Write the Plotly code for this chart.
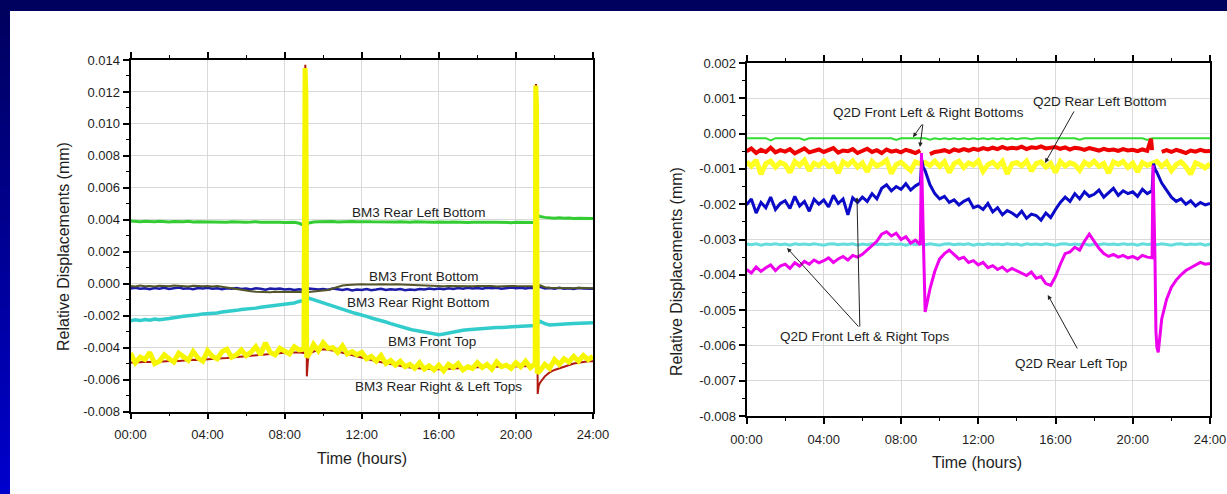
import plotly.graph_objects as go

# ---------------- data (values in 1e-3 mm, sampled every 0.25 h; spikes listed separately) ----------------
X_TICKS = [0, 4, 8, 12, 16, 20, 24]
X_TICK_TEXT = ["00:00", "04:00", "08:00", "12:00", "16:00", "20:00", "24:00"]
Y_TICKS_L = [-0.008, -0.006, -0.004, -0.002, 0.0, 0.002, 0.004, 0.006, 0.008, 0.010, 0.012, 0.014]
Y_TICKS_R = [-0.008, -0.007, -0.006, -0.005, -0.004, -0.003, -0.002, -0.001, 0.0, 0.001, 0.002]

# ---- left chart: BM3 ----
bm3_rear_left_bottom = [
    3.92, 3.90, 3.88, 3.91, 3.89, 3.87, 3.90, 3.88,
    3.86, 3.89, 3.87, 3.88, 3.90, 3.86, 3.88, 3.87,
    3.89, 3.86, 3.88, 3.87, 3.85, 3.88, 3.86, 3.87,
    3.85, 3.86, 3.88, 3.85, 3.86, 3.84, 3.86, 3.85,
    3.83, 3.85, 3.84, 3.78, 3.65, 3.80, 3.86, 3.87,
    3.88, 3.87, 3.89, 3.86, 3.88, 3.87, 3.89, 3.88,
    3.86, 3.88, 3.87, 3.86, 3.88, 3.85, 3.87, 3.86,
    3.88, 3.86, 3.85, 3.87, 3.86, 3.84, 3.86, 3.85,
    3.86, 3.84, 3.85, 3.86, 3.84, 3.85, 3.83, 3.85,
    3.84, 3.85, 3.83, 3.84, 3.85, 3.83, 3.84, 3.82,
    3.84, 3.83, 3.84, 3.82, 3.83, 4.20, 4.15, 4.12,
    4.10, 4.12, 4.09, 4.11, 4.08, 4.10, 4.09, 4.08,
    4.08]
bm3_rear_left_bottom_spikes = {9.1: -4.2, 9.15: 3.7, 21.05: 5.8, 21.08: -4.8, 21.12: 4.3}

bm3_front_bottom = [
    -0.15, -0.18, -0.12, -0.16, -0.14, -0.17, -0.13, -0.15,
    -0.16, -0.12, -0.15, -0.14, -0.18, -0.13, -0.15, -0.16,
    -0.14, -0.17, -0.15, -0.20, -0.25, -0.30, -0.35, -0.40,
    -0.45, -0.48, -0.50, -0.52, -0.50, -0.53, -0.51, -0.52,
    -0.50, -0.53, -0.52, -0.50, -0.55, -0.52, -0.50, -0.48,
    -0.45, -0.40, -0.30, -0.20, -0.12, -0.08, -0.06, -0.05,
    -0.04, -0.05, -0.03, -0.05, -0.04, -0.06, -0.05, -0.04,
    -0.05, -0.06, -0.08, -0.10, -0.12, -0.13, -0.15, -0.14,
    -0.15, -0.16, -0.14, -0.15, -0.16, -0.14, -0.15, -0.16,
    -0.15, -0.14, -0.16, -0.15, -0.17, -0.15, -0.16, -0.14,
    -0.15, -0.16, -0.15, -0.17, -0.16, -0.10, -0.22, -0.25,
    -0.26, -0.28, -0.25, -0.27, -0.29, -0.26, -0.28, -0.27,
    -0.28]
bm3_front_bottom_spikes = {9.05: 1.3, 9.12: -0.6, 21.05: 1.0, 21.12: -0.3}

bm3_rear_right_bottom = [
    -0.30, -0.25, -0.32, -0.28, -0.35, -0.27, -0.31, -0.26,
    -0.33, -0.29, -0.24, -0.31, -0.28, -0.34, -0.27, -0.30,
    -0.26, -0.32, -0.29, -0.35, -0.28, -0.31, -0.27, -0.33,
    -0.30, -0.36, -0.29, -0.32, -0.38, -0.30, -0.34, -0.31,
    -0.36, -0.33, -0.39, -0.35, -0.40, -0.30, -0.34, -0.37,
    -0.33, -0.38, -0.31, -0.36, -0.40, -0.34, -0.42, -0.36,
    -0.39, -0.33, -0.41, -0.37, -0.32, -0.40, -0.35, -0.38,
    -0.34, -0.41, -0.36, -0.39, -0.33, -0.37, -0.31, -0.35,
    -0.30, -0.34, -0.28, -0.33, -0.27, -0.31, -0.26, -0.30,
    -0.27, -0.32, -0.25, -0.29, -0.26, -0.31, -0.27, -0.24,
    -0.28, -0.25, -0.30, -0.26, -0.29, -0.20, -0.30, -0.27,
    -0.32, -0.26, -0.31, -0.28, -0.33, -0.27, -0.30, -0.29,
    -0.31]

bm3_front_top = [
    -2.32, -2.26, -2.31, -2.24, -2.29, -2.21, -2.25, -2.19,
    -2.18, -2.13, -2.11, -2.04, -2.01, -1.95, -1.94, -1.89,
    -1.88, -1.84, -1.83, -1.77, -1.75, -1.69, -1.67, -1.61,
    -1.60, -1.55, -1.53, -1.47, -1.43, -1.37, -1.36, -1.31,
    -1.30, -1.24, -1.21, -1.11, -1.05, -0.90, -1.00, -1.12,
    -1.25, -1.35, -1.45, -1.55, -1.62, -1.72, -1.80, -1.88,
    -1.95, -2.05, -2.15, -2.22, -2.32, -2.40, -2.50, -2.60,
    -2.70, -2.78, -2.85, -2.92, -2.98, -3.05, -3.12, -3.18,
    -3.20, -3.15, -3.08, -3.02, -2.96, -2.92, -2.88, -2.85,
    -2.82, -2.80, -2.79, -2.77, -2.75, -2.74, -2.72, -2.70,
    -2.70, -2.68, -2.66, -2.65, -2.62, -2.35, -2.50, -2.58,
    -2.55, -2.53, -2.52, -2.50, -2.49, -2.47, -2.46, -2.45,
    -2.44]

bm3_rear_right_top = [
    -4.95, -4.90, -4.92, -4.88, -4.90, -4.86, -4.88, -4.85,
    -4.85, -4.82, -4.84, -4.80, -4.80, -4.76, -4.78, -4.75,
    -4.72, -4.70, -4.68, -4.66, -4.65, -4.62, -4.60, -4.58,
    -4.55, -4.52, -4.50, -4.45, -4.40, -4.38, -4.35, -4.35,
    -4.32, -4.30, -4.28, -4.30, -4.35, -4.40, -4.25, -4.15,
    -4.10, -4.12, -4.18, -4.25, -4.32, -4.40, -4.48, -4.56,
    -4.62, -4.70, -4.78, -4.86, -4.92, -5.00, -5.06, -5.12,
    -5.16, -5.20, -5.24, -5.28, -5.30, -5.32, -5.34, -5.36,
    -5.35, -5.34, -5.32, -5.30, -5.28, -5.26, -5.25, -5.24,
    -5.22, -5.21, -5.20, -5.20, -5.19, -5.18, -5.18, -5.17,
    -5.16, -5.16, -5.15, -5.15, -5.15, -6.20, -5.80, -5.55,
    -5.40, -5.30, -5.20, -5.10, -5.00, -4.95, -4.90, -4.85,
    -4.85]
bm3_rear_right_top_spikes = {9.04: 6.0, 9.07: 13.7, 9.11: 11.5, 9.15: -5.8, 9.2: -4.9,
                             21.02: 6.0, 21.04: 12.5, 21.08: 11.2, 21.13: -6.9, 21.18: -6.4}

bm3_rear_left_top = [
    -4.35, -4.95, -4.60, -4.75, -4.30, -5.00, -4.85, -4.45,
    -4.70, -4.90, -4.35, -4.55, -4.80, -4.25, -4.65, -4.85,
    -4.20, -4.55, -4.70, -4.25, -4.10, -4.60, -4.45, -4.15,
    -4.50, -4.30, -3.95, -4.45, -3.70, -4.30, -4.45, -4.05,
    -4.25, -4.40, -3.95, -4.15, -4.10, -4.45, -3.80, -4.20,
    -3.70, -4.05, -4.00, -4.30, -3.90, -4.40, -4.25, -4.45,
    -4.30, -4.70, -4.55, -4.85, -4.50, -5.00, -4.80, -5.10,
    -4.85, -5.20, -5.05, -5.30, -4.95, -5.35, -5.15, -5.40,
    -5.10, -5.45, -5.05, -5.25, -5.00, -5.40, -5.20, -5.30,
    -4.95, -5.25, -5.05, -5.35, -4.90, -5.20, -5.10, -5.30,
    -4.95, -5.20, -4.85, -5.25, -5.00, -5.45, -5.05, -5.30,
    -4.75, -5.05, -4.70, -4.90, -4.55, -4.85, -4.50, -4.75,
    -4.55]
bm3_rear_left_top_spikes = {9.03: 5.0, 9.06: 13.5, 9.1: 12.0, 9.14: -4.6,
                            21.01: 5.0, 21.03: 12.4, 21.07: 11.0, 21.11: -5.6}

# ---- right chart: Q2D ----
q2d_front_bottom_a = [
    -0.13, -0.13, -0.13, -0.13, -0.13, -0.19, -0.13, -0.13,
    -0.13, -0.13, -0.13, -0.13, -0.18, -0.13, -0.13, -0.13,
    -0.13, -0.13, -0.13, -0.13, -0.13, -0.13, -0.13, -0.13,
    -0.13, -0.13, -0.13, -0.13, -0.13, -0.13, -0.13, -0.18,
    -0.13, -0.13, -0.13, -0.13, -0.13, -0.13, -0.17, -0.13,
    -0.16, -0.13, -0.16, -0.13, -0.16, -0.13, -0.16, -0.13,
    -0.16, -0.13, -0.16, -0.13, -0.16, -0.13, -0.16, -0.13,
    -0.16, -0.13, -0.13, -0.16, -0.13, -0.13, -0.13, -0.13,
    -0.13, -0.13, -0.13, -0.13, -0.13, -0.17, -0.13, -0.13,
    -0.13, -0.13, -0.13, -0.13, -0.13, -0.13, -0.13, -0.13,
    -0.13, -0.13, -0.13, -0.18, -0.13, -0.13, -0.13, -0.13,
    -0.13, -0.13, -0.13, -0.13, -0.13, -0.13, -0.13, -0.13,
    -0.13]

q2d_front_bottom_b = [
    -0.50, -0.42, -0.55, -0.46, -0.52, -0.40, -0.53, -0.47,
    -0.51, -0.44, -0.56, -0.48, -0.42, -0.53, -0.49, -0.45,
    -0.52, -0.47, -0.41, -0.54, -0.48, -0.50, -0.44, -0.55,
    -0.49, -0.43, -0.52, -0.47, -0.55, -0.45, -0.51, -0.48,
    -0.53, -0.46, -0.50, -0.55, -0.48, None, -0.58, -0.52,
    -0.50, -0.47, -0.52, -0.45, -0.49, -0.44, -0.48, -0.43,
    -0.46, -0.41, -0.45, -0.40, -0.44, -0.38, -0.43, -0.40,
    -0.42, -0.37, -0.44, -0.39, -0.41, -0.36, -0.42, -0.40,
    -0.38, -0.43, -0.39, -0.45, -0.40, -0.42, -0.46, -0.41,
    -0.44, -0.48, -0.43, -0.47, -0.45, -0.49, -0.44, -0.48,
    -0.46, -0.50, -0.45, -0.49, -0.47, None, -0.52, -0.47,
    -0.52, -0.46, -0.50, -0.55, -0.48, -0.51, -0.46, -0.50,
    -0.49]
q2d_front_bottom_b_spikes = {20.95: -0.15, 21.1: None}

q2d_rear_left_bottom = [
    -0.80, -0.92, -0.75, -1.15, -0.85, -0.78, -0.95, -0.82,
    -0.88, -1.10, -0.79, -0.90, -0.76, -1.05, -0.84, -0.91,
    -0.78, -0.93, -0.86, -1.12, -0.80, -0.89, -0.77, -0.95,
    -0.83, -1.08, -0.79, -0.92, -0.85, -0.76, -1.13, -0.88,
    -0.81, -0.94, -1.05, -0.80, -0.86, -0.82, -0.90, -0.78,
    -0.93, -0.80, -1.10, -0.85, -0.78, -0.96, -0.83, -0.89,
    -0.77, -1.07, -0.88, -0.81, -0.94, -0.79, -1.14, -0.86,
    -0.82, -0.91, -0.78, -1.06, -0.85, -0.80, -0.95, -0.84,
    -1.10, -0.79, -0.92, -0.83, -0.88, -1.04, -0.81, -0.90,
    -0.78, -0.93, -0.85, -1.12, -0.80, -0.87, -0.79, -0.96,
    -0.84, -1.08, -0.82, -0.90, -0.86, -0.79, -0.93, -0.81,
    -1.05, -0.88, -0.80, -0.94, -1.15, -0.83, -0.89, -0.97,
    -0.85]

q2d_front_top_a = [
    -2.02, -1.85, -2.25, -1.95, -2.10, -1.80, -2.15, -1.98,
    -1.90, -2.12, -1.78, -2.05, -1.92, -2.20, -1.86, -2.00,
    -1.88, -2.08, -1.75, -1.98, -1.85, -2.30, -1.82, -1.95,
    -1.80, -1.92, -1.70, -1.85, -1.55, -1.45, -1.62, -1.50,
    -1.58, -1.42, -1.60, -1.48, -1.40, -1.05, -1.45, -1.70,
    -1.85, -1.78, -1.95, -1.88, -2.02, -1.92, -1.85, -2.10,
    -2.05, -2.15, -1.98, -2.22, -2.10, -2.30, -2.18, -2.25,
    -2.35, -2.20, -2.40, -2.28, -2.32, -2.45, -2.25, -2.38,
    -2.15, -1.95, -1.80, -1.92, -1.70, -1.85, -1.65, -1.78,
    -1.72, -1.60, -1.80, -1.68, -1.55, -1.75, -1.62, -1.70,
    -1.65, -1.78, -1.58, -1.70, -1.62, -1.10, -1.40, -1.60,
    -1.80, -1.92, -1.85, -2.00, -1.90, -2.05, -1.95, -2.02,
    -1.98]
q2d_front_top_a_spikes = {9.08: -0.75, 9.15: -0.95, 21.08: -0.85, 21.15: -1.0}

q2d_front_top_b = [
    -3.13, -3.15, -3.12, -3.16, -3.13, -3.14, -3.12, -3.15,
    -3.13, -3.16, -3.12, -3.14, -3.13, -3.15, -3.12, -3.14,
    -3.16, -3.13, -3.12, -3.15, -3.13, -3.14, -3.12, -3.16,
    -3.13, -3.15, -3.12, -3.14, -3.13, -3.15, -3.12, -3.14,
    -3.13, -3.16, -3.12, -3.14, -3.13, -3.15, -3.12, -3.14,
    -3.16, -3.13, -3.12, -3.15, -3.13, -3.14, -3.12, -3.16,
    -3.13, -3.15, -3.12, -3.14, -3.13, -3.15, -3.12, -3.14,
    -3.13, -3.16, -3.12, -3.14, -3.13, -3.15, -3.12, -3.14,
    -3.16, -3.13, -3.12, -3.15, -3.13, -3.14, -3.12, -3.16,
    -3.13, -3.15, -3.12, -3.14, -3.13, -3.15, -3.12, -3.14,
    -3.13, -3.16, -3.12, -3.14, -3.13, -3.15, -3.12, -3.14,
    -3.16, -3.13, -3.12, -3.15, -3.13, -3.14, -3.12, -3.16,
    -3.13]

q2d_rear_left_top = [
    -3.85, -3.95, -3.78, -3.90, -3.80, -3.72, -3.88, -3.75,
    -3.70, -3.82, -3.66, -3.75, -3.62, -3.70, -3.58, -3.66,
    -3.60, -3.52, -3.65, -3.55, -3.48, -3.58, -3.45, -3.50,
    -3.42, -3.30, -3.18, -3.05, -2.85, -2.78, -2.90, -2.82,
    -3.00, -2.92, -3.10, -3.02, -3.15, -5.05, -4.40, -3.90,
    -3.55, -3.40, -3.30, -3.42, -3.55, -3.50, -3.65, -3.60,
    -3.72, -3.65, -3.80, -3.74, -3.85, -3.78, -3.90, -3.82,
    -3.88, -3.95, -4.02, -3.92, -4.10, -4.05, -4.25, -4.30,
    -4.05, -3.70, -3.40, -3.35, -3.22, -3.30, -3.05, -2.85,
    -3.05, -3.25, -3.40, -3.48, -3.42, -3.50, -3.45, -3.52,
    -3.48, -3.55, -3.45, -3.50, -3.52, -6.05, -5.25, -4.70,
    -4.35, -4.15, -4.00, -3.88, -3.80, -3.72, -3.65, -3.70,
    -3.68]
q2d_rear_left_top_spikes = {9.06: -0.55, 9.15: -2.8, 9.2: -4.6,
                            21.05: -0.9, 21.15: -3.5, 21.2: -5.6, 21.32: -6.2}

# label positions (hours, mm)
LEFT_LABELS = [
    ("BM3 Rear Left Bottom", 14.97, 0.00447),
    ("BM3 Front Bottom", 15.23, 0.00046),
    ("BM3 Rear Right Bottom", 14.92, -0.00117),
    ("BM3 Front Top", 15.63, -0.00362),
    ("BM3 Rear Right & Left Tops", 16.0, -0.00645),
]
RIGHT_LABELS = [
    ("Q2D Front Left & Right Bottoms", 9.4, 0.00059),
    ("Q2D Rear Left Bottom", 18.3, 0.00090),
    ("Q2D Front Left & Right Tops", 6.13, -0.00576),
    ("Q2D Rear Left Top", 16.8, -0.00650),
]
# arrows: (tail_h, tail_v, head_h, head_v)
RIGHT_ARROWS = [
    (9.14, 0.00030, 8.62, -0.00010),
    (9.14, 0.00030, 8.98, -0.00038),
    (17.0, 0.00067, 15.46, -0.00083),
    (5.87, -0.00551, 2.1, -0.00324),
    (5.87, -0.00551, 5.72, -0.00180),
    (17.17, -0.00613, 15.6, -0.00457),
]


def build(values, spikes=None):
    pts = {round(i * 0.25, 4): v for i, v in enumerate(values)}
    if spikes:
        pts.update(spikes)
    ts = sorted(pts)
    return ts, [None if pts[t] is None else pts[t] * 1e-3 for t in ts]


FONT = "Liberation Sans, Arial, sans-serif"
TXT = "#1e1e1e"

fig = go.Figure()


def add(series, spikes, color, width, xa, ya):
    t, v = build(series, spikes)
    fig.add_trace(go.Scatter(x=t, y=v, mode="lines", line=dict(color=color, width=width),
                             xaxis=xa, yaxis=ya, showlegend=False, hoverinfo="skip",
                             connectgaps=False))


# left chart
add(bm3_rear_left_bottom, bm3_rear_left_bottom_spikes, "#33cc33", 3, "x", "y")
add(bm3_front_top, None, "#33cccc", 3.5, "x", "y")
add(bm3_rear_right_bottom, None, "#1c1ca8", 2.5, "x", "y")
add(bm3_front_bottom, bm3_front_bottom_spikes, "#55552a", 2, "x", "y")
add(bm3_rear_right_top, bm3_rear_right_top_spikes, "#b01a10", 2, "x", "y")
add(bm3_rear_left_top, bm3_rear_left_top_spikes, "#f6f600", 5, "x", "y")

# right chart
add(q2d_front_bottom_a, None, "#33dd33", 2, "x2", "y2")
add(q2d_rear_left_bottom, None, "#ffff22", 5, "x2", "y2")
add(q2d_front_bottom_b, q2d_front_bottom_b_spikes, "#ee0000", 4, "x2", "y2")
add(q2d_front_top_b, None, "#66dddd", 3, "x2", "y2")
add(q2d_front_top_a, q2d_front_top_a_spikes, "#0a0ac8", 3, "x2", "y2")
add(q2d_rear_left_top, q2d_rear_left_top_spikes, "#ee00ee", 3, "x2", "y2")

W, H = 1227, 494


def xaxis(domain, anchor):
    return dict(domain=domain, anchor=anchor, range=[0, 24], tickmode="array",
                tickvals=X_TICKS, ticktext=X_TICK_TEXT, ticks="outside", ticklen=6,
                tickwidth=1.5, tickcolor="black", showline=True, linecolor="black",
                linewidth=1.8, mirror="ticks", showgrid=True, gridcolor="#d9d9d9",
                gridwidth=1, zeroline=False, automargin=False, ticklabelstandoff=4,
                tickfont=dict(family=FONT, size=13, color=TXT),
                minor=dict(tickmode="array", tickvals=[2, 6, 10, 14, 18, 22], ticks="outside",
                           ticklen=3, tickwidth=1.2, tickcolor="black", showgrid=False))


def yaxis(domain, anchor, rng, vals, minor_vals):
    return dict(domain=domain, anchor=anchor, range=rng, tickmode="array", tickvals=vals,
                ticktext=["%.3f" % v if abs(v) > 1e-12 else "0.000" for v in vals],
                ticks="outside", ticklen=6, tickwidth=1.5, tickcolor="black", showline=True,
                linecolor="black", linewidth=1.8, mirror=True, showgrid=True,
                gridcolor="#d9d9d9", gridwidth=1, zeroline=False, automargin=False,
                tickfont=dict(family=FONT, size=13, color=TXT),
                minor=dict(tickmode="array", tickvals=minor_vals, ticks="outside", ticklen=3,
                           tickwidth=1.2, tickcolor="black", showgrid=False))


minor_l = [v + 0.001 for v in Y_TICKS_L[:-1]]
minor_r = [v + 0.0005 for v in Y_TICKS_R[:-1]]

LX0, LX1, LY0, LY1 = 130.5, 593, 60, 411.5
RX0, RX1, RY0, RY1 = 746.5, 1210, 63, 416

fig.update_layout(
    width=W, height=H, margin=dict(l=0, r=0, t=0, b=0, autoexpand=False),
    paper_bgcolor="white", plot_bgcolor="white",
    xaxis=xaxis([LX0 / W, LX1 / W], "y"),
    yaxis=yaxis([1 - LY1 / H, 1 - LY0 / H], "x", [-0.008, 0.014], Y_TICKS_L, minor_l),
    xaxis2=xaxis([RX0 / W, RX1 / W], "y2"),
    yaxis2=yaxis([1 - RY1 / H, 1 - RY0 / H], "x2", [-0.008, 0.002], Y_TICKS_R, minor_r),
)

ann = []
for text, h, v in LEFT_LABELS:
    ann.append(dict(x=h, y=v, xref="x", yref="y", text=text, showarrow=False,
                    xanchor="center", yanchor="middle",
                    font=dict(family=FONT, size=13.5, color=TXT)))
for text, h, v in RIGHT_LABELS:
    ann.append(dict(x=h, y=v, xref="x2", yref="y2", text=text, showarrow=False,
                    xanchor="center", yanchor="middle",
                    font=dict(family=FONT, size=13.5, color=TXT)))
for th, tv, hh, hv in RIGHT_ARROWS:
    ann.append(dict(x=hh, y=hv, ax=th, ay=tv, xref="x2", yref="y2", axref="x2", ayref="y2",
                    text="", showarrow=True, arrowhead=2, arrowsize=0.9, arrowwidth=1,
                    arrowcolor="#222222", standoff=0, startstandoff=0))
# axis titles
for xc, yc in [(63, 247), (676, 272)]:
    ann.append(dict(x=xc / W, y=1 - yc / H, xref="paper", yref="paper",
                    xanchor="center", yanchor="middle",
                    text="Relative Displacements (mm)", textangle=-90, showarrow=False,
                    font=dict(family=FONT, size=16, color=TXT)))
for xc, yc in [(362, 458), (977, 462)]:
    ann.append(dict(x=xc / W, y=1 - yc / H, xref="paper", yref="paper",
                    xanchor="center", yanchor="middle",
                    text="Time (hours)", showarrow=False,
                    font=dict(family=FONT, size=16, color=TXT)))
fig.update_layout(annotations=ann)

# slide frame: navy top bar and blue gradient on the left
shapes = []
steps = 40
for i in range(steps):
    f = i / (steps - 1)
    b = int(0x5e + (0xcc - 0x5e) * f)
    shapes.append(dict(type="rect", xref="paper", yref="paper", x0=0, x1=10 / W,
                       y0=1 - (i + 1) / steps - 2 / H, y1=1 - i / steps,
                       fillcolor="rgb(0,0,%d)" % b, line=dict(width=0),
                       layer="above"))
shapes.append(dict(type="rect", xref="paper", yref="paper", x0=0, x1=1, y0=1 - 11 / H, y1=1,
                   fillcolor="#00005e", line=dict(width=0), layer="above"))
fig.update_layout(shapes=shapes)

fig.write_html("out.html")
